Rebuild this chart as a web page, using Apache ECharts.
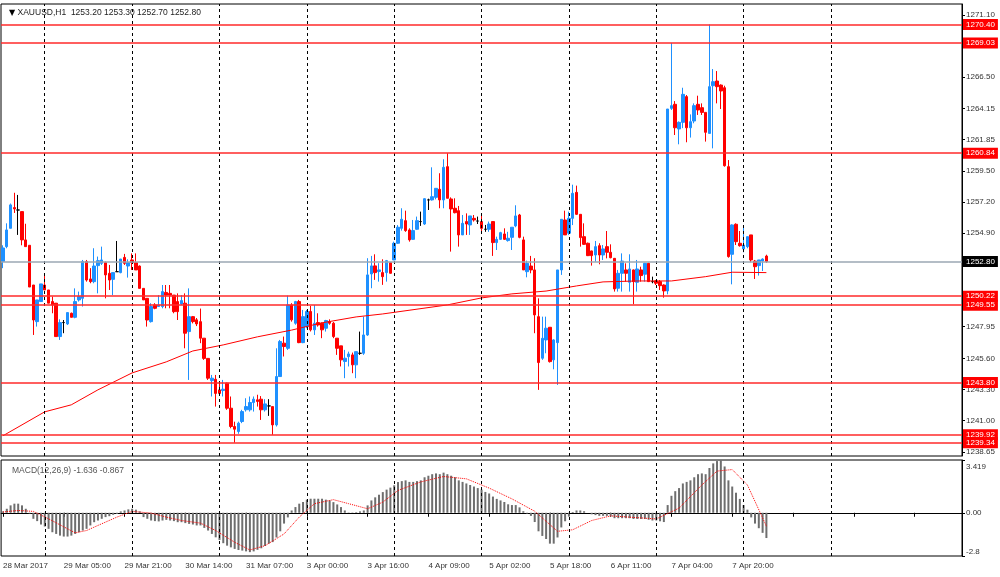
<!DOCTYPE html>
<html><head><meta charset="utf-8">
<script src="https://cdn.jsdelivr.net/npm/echarts@6/dist/echarts.min.js"></script>
<style>html,body{margin:0;padding:0;background:#fff}#c{width:1000px;height:577px}</style>
</head><body><div id="c"></div>
<script>
// ---- data ----
const symbolName = 'XAUUSD,H1';
const timeLabels = ['28 Mar 2017','29 Mar 05:00','29 Mar 21:00','30 Mar 14:00','31 Mar 07:00','3 Apr 00:00','3 Apr 16:00','4 Apr 09:00','5 Apr 02:00','5 Apr 18:00','6 Apr 11:00','7 Apr 04:00','7 Apr 20:00'];
const opens = [1252.8,1253.9,1255.26,1256.8,1256.62,1256.5,1254.4,1254.0,1251.05,1248.33,1249.82,1251.05,1250.68,1249.82,1249.7,1247.22,1248.26,1248.16,1248.95,1248.65,1249.94,1250.06,1252.79,1251.5,1251.3,1252.49,1252.66,1252.71,1251.92,1251.47,1252.04,1251.97,1253.1,1252.46,1252.91,1252.71,1252.46,1250.8,1250.06,1248.33,1249.57,1249.45,1249.45,1250.5,1250.43,1250.3,1249.82,1249.64,1249.7,1247.59,1248.7,
1248.46,1248.33,1247.1,1245.6,1243.95,1244.05,1243.26,1243.21,1243.76,1241.9,1240.54,1240.17,1240.91,1241.78,1241.78,1242.32,1242.52,1242.57,1241.78,1242.07,1242.02,1240.66,1244.25,1246.73,1246.35,1249.57,1248.21,1249.82,1246.77,1247.96,1249.08,1247.72,1248.26,1248.21,1247.84,1248.33,1248.21,1247.1,1246.53,1245.37,1245.73,1245.86,1245.12,1245.98,1245.98,1247.34,1251.87,1252.47,1252.05,1251.97,
1251.97,1252.71,1252.91,1254.15,1255.26,1255.83,1255.14,1254.44,1255.19,1255.76,1255.58,1257.37,1257.37,1257.56,1258.16,1257.37,1259.84,1257.44,1256.75,1256.57,1254.77,1255.76,1255.51,1256.0,1255.8,1255.76,1255.19,1255.19,1255.76,1254.2,1254.44,1254.84,1254.35,1254.59,1255.44,1256.25,1254.4,1252.04,1252.46,1252.17,1248.7,1245.61,1246.97,1247.91,1245.49,1246.77,1252.17,1255.88,1254.9,1256.0,
1257.93,1256.3,1254.64,1254.15,1253.58,1253.28,1253.97,1253.28,1253.9,1253.48,1253.03,1250.81,1251.92,1252.17,1251.25,1252.17,1251.25,1252.17,1251.85,1252.66,1251.3,1251.35,1251.3,1251.05,1250.61,1264.17,1264.47,1262.64,1263.13,1265.04,1262.73,1263.23,1264.47,1264.22,1263.87,1262.31,1265.85,1266.2,1265.9,1265.7,1259.84,1253.33,1255.56,1254.15,1253.73,1253.9,1254.77,1252.83,1252.49,1252.83,1253.20];
const highs = [1254.0,1255.63,1257.1,1257.9,1257.74,1256.5,1255.6,1254.0,1251.05,1249.94,1251.13,1251.8,1250.68,1250.19,1249.7,1248.5,1248.45,1249.0,1249.0,1250.8,1250.56,1252.91,1252.91,1252.3,1253.78,1253.16,1253.9,1252.79,1252.54,1251.97,1254.32,1252.98,1253.36,1252.96,1253.4,1253.4,1252.5,1250.8,1250.06,1249.7,1249.7,1250.3,1251.05,1251.05,1251.05,1250.3,1250.43,1250.3,1250.43,1250.8,1248.75,
1248.6,1249.3,1247.1,1245.6,1244.37,1244.37,1243.76,1244.0,1243.8,1242.77,1240.9,1240.9,1241.78,1242.64,1242.77,1242.77,1242.9,1242.8,1242.57,1242.57,1242.02,1246.35,1246.97,1247.22,1250.26,1249.7,1249.87,1249.94,1249.2,1249.2,1249.5,1249.57,1248.95,1248.26,1248.46,1248.5,1248.3,1247.1,1246.53,1246.23,1246.1,1246.03,1246.1,1247.59,1248.7,1253.04,1253.21,1253.33,1252.67,1252.96,
1252.91,1252.75,1254.27,1255.5,1256.75,1256.57,1255.26,1255.88,1256.13,1256.5,1257.49,1257.46,1259.79,1258.23,1259.35,1260.39,1260.84,1257.56,1257.49,1256.92,1256.25,1256.37,1256.18,1256.25,1256.13,1256.18,1255.51,1255.76,1255.76,1254.64,1255.0,1255.26,1255.0,1255.34,1256.97,1256.33,1254.64,1252.86,1253.21,1253.04,1250.06,1248.7,1248.7,1247.91,1247.02,1252.17,1255.93,1256.57,1256.5,1258.5,
1258.43,1256.3,1255.63,1254.2,1253.6,1254.32,1254.15,1254.02,1255.06,1254.07,1253.05,1252.17,1253.4,1252.66,1253.33,1252.2,1252.91,1252.41,1252.7,1252.7,1251.67,1251.42,1251.42,1251.1,1264.12,1269.03,1264.71,1263.2,1265.7,1265.16,1263.72,1264.54,1265.11,1264.54,1263.87,1270.40,1267.09,1266.94,1265.95,1265.85,1260.33,1255.56,1255.63,1255.06,1255.46,1254.64,1254.77,1252.91,1252.91,1253.03,1253.30];
const lows = [1252.3,1253.78,1255.26,1256.4,1254.77,1254.0,1253.9,1250.9,1247.34,1247.96,1249.82,1250.68,1249.7,1248.95,1247.22,1246.97,1247.47,1248.08,1248.65,1248.58,1249.82,1249.45,1251.3,1251.18,1251.18,1250.43,1252.54,1250.06,1250.68,1250.3,1252.04,1251.92,1252.54,1251.6,1252.17,1252.17,1250.8,1249.94,1247.96,1248.26,1249.25,1249.45,1249.32,1249.32,1249.32,1248.95,1248.45,1249.57,1246.35,1244.0,1248.2,
1248.0,1246.73,1245.49,1244.0,1242.77,1242.02,1242.9,1242.77,1241.78,1240.41,1239.34,1240.0,1240.79,1241.65,1241.65,1241.65,1242.02,1241.03,1241.65,1241.33,1239.92,1240.54,1244.25,1245.74,1246.23,1248.33,1248.1,1246.73,1246.73,1247.84,1247.6,1247.34,1247.96,1247.1,1247.59,1248.1,1247.1,1245.86,1245.0,1244.13,1245.0,1244.5,1244.13,1245.86,1245.86,1247.27,1250.81,1251.43,1251.3,1251.06,
1251.3,1251.9,1252.9,1254.1,1255.09,1255.0,1254.27,1254.4,1255.14,1255.44,1255.51,1256.62,1257.32,1257.41,1256.75,1256.75,1257.49,1253.53,1256.37,1253.9,1254.77,1254.77,1254.77,1255.76,1255.58,1255.0,1255.0,1255.0,1253.21,1253.65,1254.4,1254.4,1254.27,1253.65,1255.34,1254.52,1252.17,1251.62,1251.92,1247.47,1243.26,1245.49,1245.98,1245.29,1244.79,1243.63,1251.8,1254.77,1254.77,1255.5,
1256.25,1253.9,1254.02,1253.2,1252.49,1252.78,1252.59,1252.91,1253.03,1253.03,1250.56,1250.56,1250.56,1251.3,1250.56,1249.62,1250.56,1251.3,1251.3,1251.3,1251.18,1251.05,1250.68,1250.11,1250.36,1264.05,1262.19,1261.5,1262.7,1261.65,1262.0,1263.06,1263.68,1263.68,1261.7,1262.31,1261.2,1264.54,1264.12,1259.84,1253.08,1251.1,1254.02,1253.9,1253.48,1253.78,1252.74,1251.5,1251.75,1252.09,1252.70];
const closes = [1253.8,1255.14,1257.0,1256.7,1256.62,1254.4,1253.9,1250.9,1248.45,1249.94,1251.13,1250.68,1249.7,1249.57,1247.22,1248.26,1248.26,1249.0,1248.65,1249.82,1250.19,1252.79,1251.42,1251.3,1252.46,1252.86,1252.91,1251.8,1251.42,1251.97,1252.04,1252.98,1252.66,1252.71,1252.71,1252.17,1250.8,1249.94,1248.45,1249.45,1249.32,1249.57,1250.56,1250.3,1250.3,1249.07,1249.07,1249.89,1247.47,1248.7,1248.33,
1248.16,1247.1,1245.6,1244.13,1244.13,1243.0,1243.0,1243.31,1241.9,1240.54,1240.34,1240.79,1241.65,1242.02,1242.32,1242.57,1242.4,1241.78,1242.22,1242.07,1240.66,1244.25,1246.85,1246.48,1249.57,1248.46,1249.82,1246.77,1248.7,1249.08,1247.72,1248.21,1248.08,1247.72,1248.41,1248.21,1247.22,1246.35,1245.49,1245.61,1245.93,1245.12,1246.1,1245.98,1247.34,1251.8,1252.47,1251.97,1252.17,1251.67,
1252.86,1251.92,1254.15,1255.34,1255.93,1255.09,1254.4,1255.09,1255.83,1255.76,1257.46,1257.37,1257.61,1258.23,1257.37,1259.79,1257.49,1256.7,1256.42,1254.77,1255.63,1255.58,1256.18,1255.88,1255.8,1255.26,1255.19,1255.58,1254.2,1254.44,1254.94,1254.44,1254.52,1255.34,1256.18,1254.59,1252.17,1252.66,1252.17,1248.83,1245.29,1247.09,1247.84,1245.36,1246.97,1252.17,1255.93,1254.77,1256.0,1257.86,
1256.3,1254.57,1254.07,1253.23,1253.23,1253.9,1253.28,1253.73,1253.48,1253.08,1250.76,1251.92,1252.83,1251.92,1252.24,1251.3,1252.24,1251.75,1252.66,1251.3,1251.3,1251.18,1251.0,1250.61,1264.12,1264.37,1262.73,1263.13,1265.21,1262.73,1263.18,1264.37,1264.05,1263.87,1262.39,1265.78,1266.15,1265.78,1265.46,1259.91,1253.16,1255.51,1254.27,1253.97,1254.02,1254.64,1252.91,1252.41,1252.91,1252.98,1252.80];
// moving average: [bar index, value] read at sample points
const maPoints = [[0,1239.85],[11,1241.63],[18,1242.15],[25,1243.26],[34,1244.52],[43,1245.34],[50,1246.15],[58,1246.6],[67,1247.2],[76,1247.7],[84,1248.24],[93,1248.68],[100,1248.9],[117,1249.57],[126,1250.09],[134,1250.39],[143,1250.6],[151,1250.98],[158,1251.28],[167,1251.35],[176,1251.35],[185,1251.67],[192,1252.0],[201,1251.97]];
const macdHist = [0.09,0.26,0.48,0.59,0.59,0.48,0.26,-0.05,-0.39,-0.54,-0.76,-0.89,-1.04,-1.26,-1.37,-1.48,-1.54,-1.54,-1.48,-1.37,-1.26,-1.15,-1.04,-0.82,-0.61,-0.5,-0.39,-0.28,-0.22,-0.13,-0.07,0.09,0.15,0.22,0.26,0.2,0.09,-0.28,-0.39,-0.5,-0.54,-0.56,-0.5,-0.46,-0.5,-0.54,-0.61,-0.61,-0.67,-0.72,-0.76,
-0.82,-0.82,-0.98,-1.15,-1.37,-1.59,-1.76,-1.97,-2.13,-2.24,-2.34,-2.41,-2.45,-2.5,-2.55,-2.5,-2.4,-2.3,-2.15,-2.0,-1.9,-1.6,-1.2,-0.7,-0.3,0.15,0.37,0.59,0.7,0.85,0.91,0.91,0.91,0.91,0.85,0.8,0.69,0.54,0.37,0.15,0.02,0.02,0.04,0.09,0.15,0.48,0.8,1.0,1.17,1.34,
1.5,1.63,1.78,1.99,2.05,2.1,2.0,2.0,2.05,2.1,2.3,2.4,2.5,2.55,2.5,2.6,2.5,2.4,2.3,2.1,2.0,1.9,1.8,1.7,1.6,1.5,1.35,1.25,1.05,0.9,0.8,0.7,0.55,0.5,0.5,0.35,0.1,-0.05,-0.2,-0.6,-1.2,-1.5,-1.7,-2.0,-2.0,-1.6,-0.95,-0.55,-0.25,0.05,
0.15,0.15,0.1,0.0,-0.1,-0.15,-0.2,-0.2,-0.2,-0.25,-0.35,-0.35,-0.35,-0.35,-0.35,-0.4,-0.4,-0.4,-0.4,-0.45,-0.5,-0.5,-0.55,-0.6,0.5,1.1,1.4,1.6,1.9,2.0,2.1,2.3,2.5,2.55,2.5,2.9,3.2,3.35,3.4,3.0,2.1,1.7,1.3,0.9,0.5,0.2,-0.3,-0.7,-1.0,-1.3,-1.636];
const signalPoints = [[0,0.05],[4,0.15],[8,0.09],[12,-0.39],[17,-1.04],[19,-1.3],[22,-1.15],[25,-0.82],[30,-0.28],[34,0.09],[39,-0.02],[43,-0.28],[47,-0.5],[52,-0.67],[56,-1.15],[61,-1.91],[65,-2.41],[69,-2.13],[74,-1.37],[78,-0.28],[82,0.59],[87,0.85],[91,0.59],[96,0.26],[100,0.69],[104,1.45],[110,2.0],[116,2.35],[122,2.2],[128,1.6],[134,0.9],[140,0.1],[146,-1.2],[150,-1.1],[155,-0.5],[160,-0.2],[166,-0.3],[172,-0.4],[178,0.3],[184,1.8],[188,2.7],[192,2.8],[196,1.8],[201,-0.867]];
const levelValues = [1270.40,1269.03,1260.84,1250.22,1249.55,1243.80,1239.92,1239.34];
const priceTicks = [1238.65,1241.00,1243.30,1245.60,1247.95,1250.25,1252.60,1254.90,1257.20,1259.50,1261.85,1264.15,1266.50,1268.80,1271.10];
const macdTicks = [-2.8,0,3.419];
const gridLineSlots = [11,34,57,80,103,126,149,172,195,218];

// ---- layout ----
const nSlots = 253;
const slots = Array.from({length:nSlots},(_,i)=>String(i));
const last = opens.length-1;
const bid = closes[last];
const FONT = 'Liberation Sans';
const axisTxt = {fontSize:8, color:'#333', fontFamily:FONT};

const vLines = gridLineSlots.map(s=>({xAxis:s, lineStyle:{type:[3,3], color:'#000', width:1}, label:{show:false}}));
const levelLines = levelValues.map(v=>({yAxis:v, lineStyle:{color:'#ff2a2a', width:1.5, type:'solid'},
  label:{show:true, position:'end', distance:1, formatter:()=>v.toFixed(2), backgroundColor:'#ff0000', color:'#fff', padding:[2,3,1,3], fontSize:8, fontFamily:FONT}}));
const bidLine = {yAxis:bid, lineStyle:{color:'#9ba7b3', width:1.5, type:'solid'},
  label:{show:true, position:'end', distance:1, formatter:()=>bid.toFixed(2), backgroundColor:'#000', color:'#fff', padding:[2,3,1,3], fontSize:8, fontFamily:FONT}};

const chart = echarts.init(document.getElementById('c'), null, {renderer:'canvas'});
chart.setOption({
  animation:false,
  backgroundColor:'#fff',
  title:[
    {text:'{t|▼} '+symbolName+'  '+[opens[last],highs[last],lows[last],closes[last]].map(v=>v.toFixed(2)).join(' '),
     left:4, top:3, textStyle:{fontSize:8.5, fontWeight:'normal', color:'#222', fontFamily:FONT, rich:{t:{fontSize:8, fontFamily:'DejaVu Sans', color:'#000'}}}},
    {text:'MACD(12,26,9) '+macdHist[last].toFixed(3)+' '+signalPoints[signalPoints.length-1][1].toFixed(3),
     left:7, top:461, textStyle:{fontSize:8.5, fontWeight:'normal', color:'#555', fontFamily:FONT}}
  ],
  grid:[
    {left:1, right:38, top:4, height:452, show:true, borderColor:'#000', borderWidth:1},
    {left:1, right:38, top:460, height:96, show:true, borderColor:'#000', borderWidth:1}
  ],
  xAxis:[
    {type:'category', gridIndex:0, data:slots, boundaryGap:true, axisLine:{show:false}, axisTick:{show:false}, axisLabel:{show:false}, splitLine:{show:false}},
    {type:'category', gridIndex:1, data:slots, boundaryGap:true,
     axisLine:{show:true, lineStyle:{color:'#000'}},
     axisTick:{show:true, interval:15, alignWithLabel:true, length:4, lineStyle:{color:'#000'}},
     axisLabel:Object.assign({interval:15, align:'left', margin:6, formatter:(v,i)=>timeLabels[i/16]||''}, axisTxt),
     splitLine:{show:false}}
  ],
  yAxis:[
    {type:'value', gridIndex:0, position:'right', min:1238.35, max:1271.92,
     axisLine:{show:true, lineStyle:{color:'#000'}},
     axisTick:{show:true, customValues:priceTicks, length:3, lineStyle:{color:'#000'}},
     axisLabel:Object.assign({customValues:priceTicks, margin:4, formatter:v=>v.toFixed(2)}, axisTxt),
     splitLine:{show:false}},
    {type:'value', gridIndex:1, position:'right', min:-2.8, max:3.419,
     axisLine:{show:true, lineStyle:{color:'#000'}},
     axisTick:{show:true, customValues:macdTicks, length:3, lineStyle:{color:'#000'}},
     axisLabel:Object.assign({customValues:macdTicks, margin:4,
       formatter:v=> v>3 ? '{a|3.419}' : (v<-2 ? '{b|-2.8}' : '{c|0.00}'),
       rich:{a:{padding:[14,0,0,0],fontSize:8,color:'#333',fontFamily:FONT}, b:{padding:[0,0,8,0],fontSize:8,color:'#333',fontFamily:FONT}, c:{fontSize:8,color:'#333',fontFamily:FONT}}}, axisTxt),
     splitLine:{show:false}}
  ],
  series:[
    {type:'candlestick', xAxisIndex:0, yAxisIndex:0, barWidth:3,
     data:opens.map((o,i)=>[o, closes[i], lows[i], highs[i]]),
     itemStyle:{color:'#1e90ff', color0:'#ff0000', borderColor:'#1e90ff', borderColor0:'#ff0000', borderColorDoji:'#000', borderWidth:1},
     markLine:{silent:true, symbol:['none','none'], z:10, data:[...vLines, ...levelLines, bidLine]}},
    {type:'line', xAxisIndex:0, yAxisIndex:0, data:maPoints, showSymbol:false, symbol:'none',
     lineStyle:{color:'#ff0000', width:1}, z:3},
    {type:'bar', xAxisIndex:1, yAxisIndex:1, data:macdHist, barWidth:2, itemStyle:{color:'#6e6e6e'},
     markLine:{silent:true, symbol:['none','none'], data:vLines}},
    {type:'line', xAxisIndex:1, yAxisIndex:1, data:signalPoints, showSymbol:false, symbol:'none',
     lineStyle:{color:'#ff0000', width:1, type:'dotted'}, z:4}
  ]
});
</script>
</body></html>
